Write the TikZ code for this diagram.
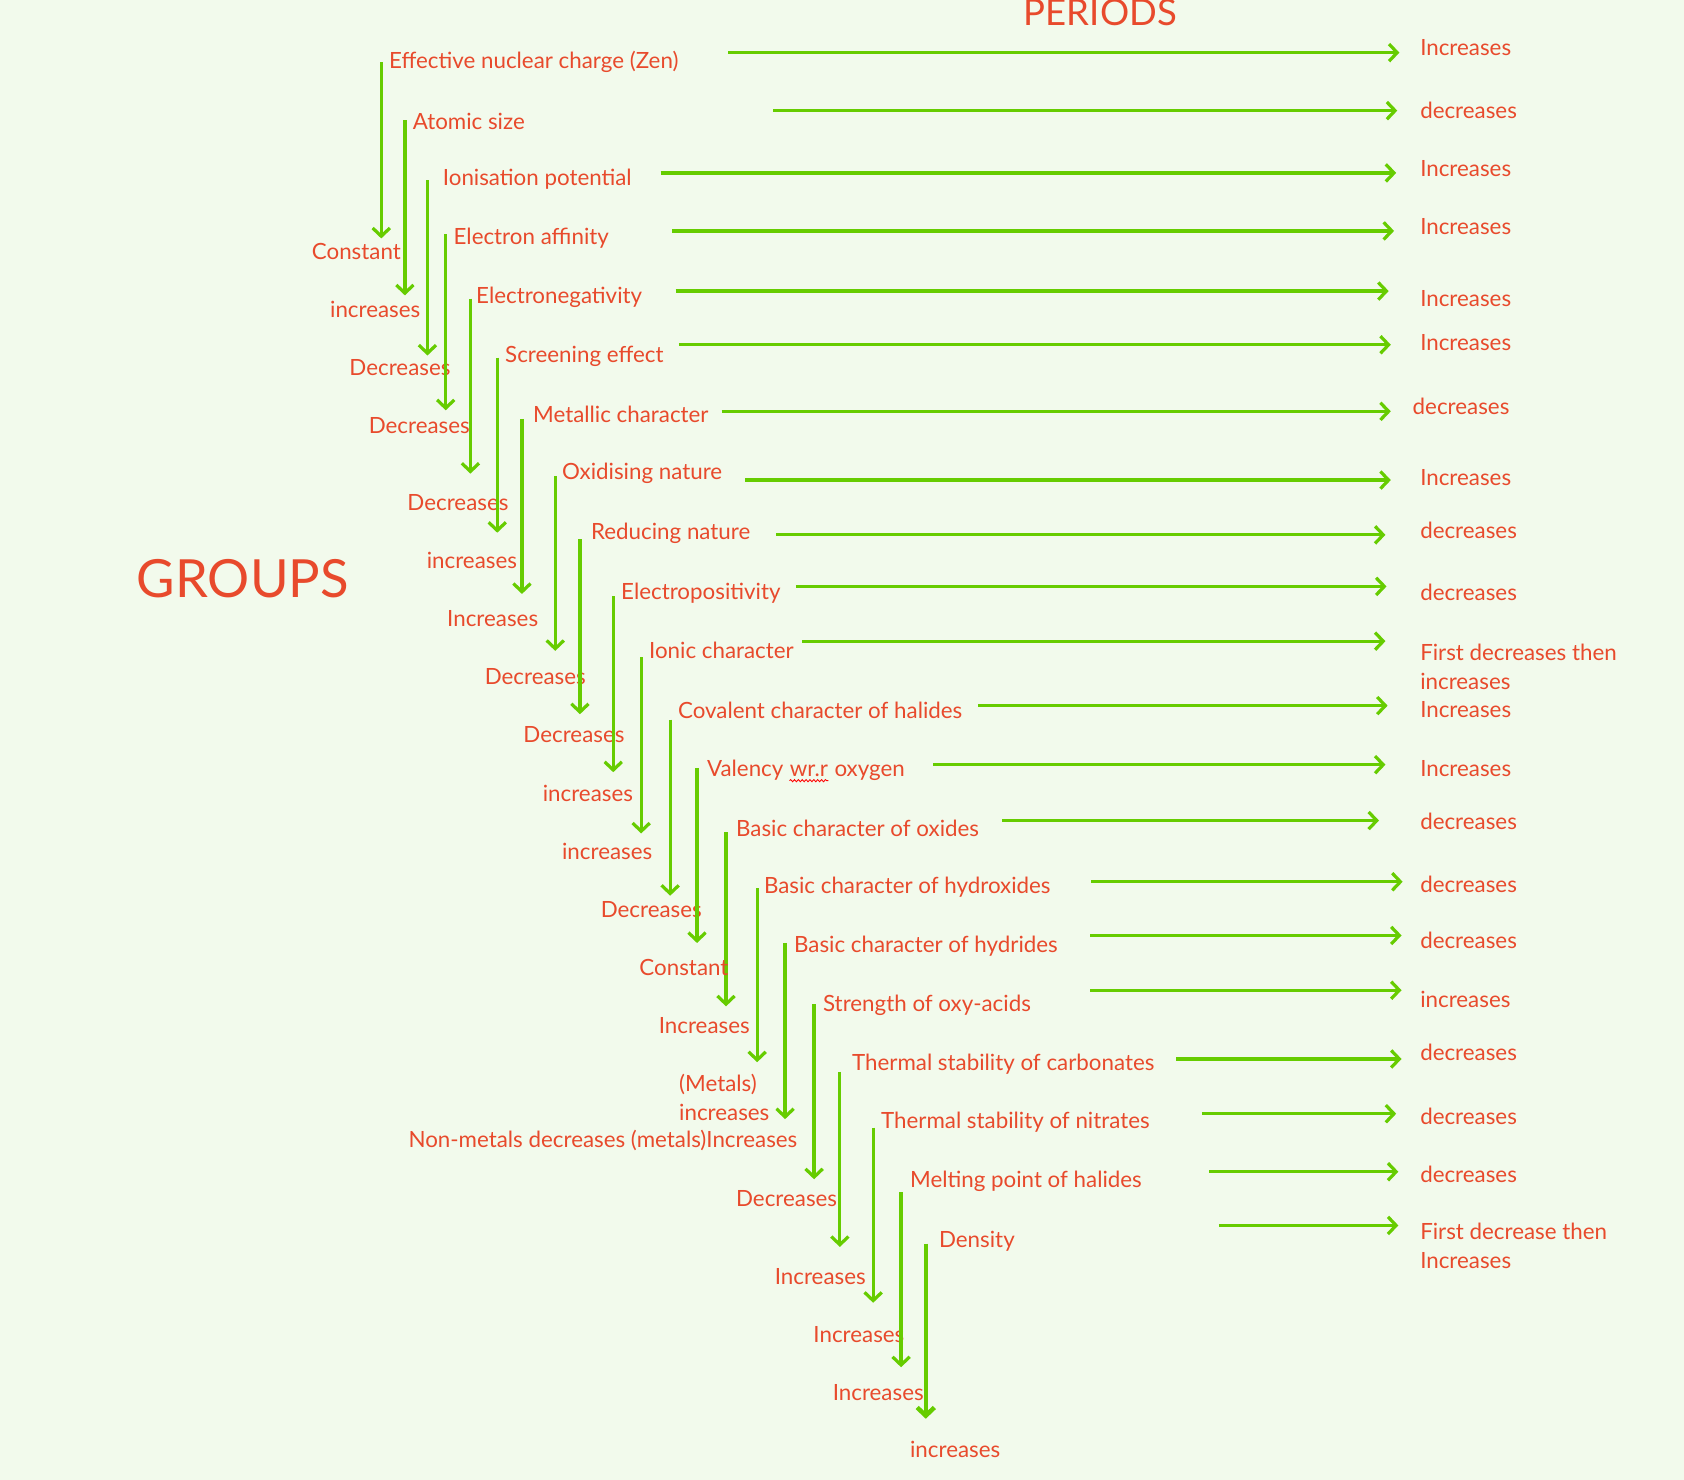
\documentclass[tikz,border=0pt]{standalone}
\usepackage{fontspec}
\setmainfont{Lato}
\usetikzlibrary{arrows.meta,decorations.pathmorphing}
\definecolor{bg}{HTML}{F2FAEC}
\definecolor{tred}{HTML}{E84A2C}
\definecolor{agreen}{HTML}{66CC00}
\begin{document}
\begin{tikzpicture}[x=0.5pt,y=-0.5pt,
  lbl/.style={text=tred, font=\fontsize{10.4}{13.4}\selectfont, inner sep=1pt, anchor=west},
  arr/.style={draw=agreen, line width=1.5pt, -{Straight Barb[length=3.8pt,width=8pt]}}]
\fill[bg] (0,0) rectangle (1568,1378);
\useasboundingbox (0,0) rectangle (1568,1378);
\node[text=tred, font=\fontsize{17}{20}\selectfont, inner sep=0pt, anchor=west] (periods) at (953,12) {PERIODS};
\node[text=tred, font=\fontsize{24.5}{28}\selectfont, inner sep=0pt, anchor=west] (groups) at (127,539) {GROUPS};
\foreach \i/\vx/\vt/\vb/\tx/\ty/\txt/\ha/\hb/\hy/\rx/\ry/\rt/\bx/\by/\bt/\lw in {
 1/355/58/222/360/58/{Effective nuclear charge (Zen)}/678/1303/49/1320/44/{Increases}/288/234/{Constant}/1.5,
 2/377/112/275/382/113/{Atomic size}/720/1301/103/1320/103/{decreases}/305/288/{increases}/1.5,
 3/398/168/331/410/167/{Ionisation potential}/615/1300/161/1320/157/{Increases}/323/342/{Decreases}/1.5,
 4/415/218/382/420/222/{Electron affinity}/626/1298/215/1320/211/{Increases}/341/396/{Decreases}/1.5,
 5/438/278/441/441/277/{Electronegativity}/629/1293/271/1320/278/{Increases}/377/468/{Decreases}/1.5,
 6/463/333/496/468/332/{Screening effect}/632/1295/321/1320/319/{Increases}/395/522/{increases}/1.5,
 7/486/390/553/494/386/{Metallic character}/672/1295/383/1313/378/{decreases}/414/576/{Increases}/1.5,
 8/517/443/606/521/441/{Oxidising nature}/694/1295/447/1320/445/{Increases}/449/630/{Decreases}/1.5,
 9/540/502/665/548/497/{Reducing nature}/723/1290/498/1320/494/{decreases}/485/684/{Decreases}/1.5,
 10/571/555/719/576/552/{Electropositivity}/741/1291/546/1320/552/{decreases}/503/739/{increases}/1.5,
 11/597/612/776/602/606/{Ionic character}/747/1290/597/1320/621/{First decreases then\\increases}/521/793/{increases}/1.5,
 12/624/670/834/629/661/{Covalent character of halides}/911/1292/657/1320/661/{Increases}/557/847/{Decreases}/1.5,
 14/676/775/937/683/771/{Basic character of oxides}/933/1284/764/1320/765/{decreases}/611/955/{Increases}/1.5,
 15/705/827/989/709/826/{Basic character of hydroxides}/1016/1306/821/1320/823/{decreases}/630/1022/{(Metals)\\increases}/1.5,
 16/731/878/1042/737/881/{Basic character of hydrides}/1015/1305/871/1320/876/{decreases}/378/1062/{Non-metals decreases (metals)Increases}/1.5,
 17/758/935/1098/764/936/{Strength of oxy-acids}/1015/1305/922/1320/931/{increases}/683/1116/{Decreases}/1.5,
 18/782/998/1161/791/991/{Thermal stability of carbonates}/1095/1305/986/1320/980/{decreases}/719/1189/{Increases}/1.5,
 19/813/1050/1213/818/1045/{Thermal stability of nitrates}/1119/1300/1037/1320/1039/{decreases}/755/1243/{Increases}/1.5,
 20/839/1110/1273/845/1100/{Melting point of halides}/1126/1302/1091/1320/1093/{decreases}/773/1297/{Increases}/1.5,
 21/862/1158/1321/872/1156/{Density}/1135/1302/1141/1320/1160/{First decrease then\\Increases}/845/1350/{increases}/2.1}
{
  \node[lbl] (t\i) at (\tx,\ty) {\txt};
  \node[lbl, align=left] (r\i) at (\rx,\ry) {\rt};
  \node[lbl, align=left] (b\i) at (\bx,\by) {\bt};
  \coordinate (va\i) at (\vx,\vt);
  \coordinate (vb\i) at (\vx,\vb);
  \coordinate (ha\i) at (\ha,\hy);
  \coordinate (hb\i) at (\hb,\hy);
  \draw[arr, line width=\lw pt] (va\i) -- (vb\i);
  \draw[arr] (ha\i) -- (hb\i);
}
% item 13 with spell-check underline
\node[lbl] (t13) at (656,717) {Valency};
\node[lbl, anchor=base west] (w13) at ([xshift=0.6pt]t13.base east) {wr.r};
\node[lbl, anchor=base west] (o13) at ([xshift=0.6pt]w13.base east) {oxygen};
\draw[red, line width=0.4pt, decorate, decoration={snake, amplitude=0.5pt, segment length=1.8pt}]
  ([xshift=1pt,yshift=-2pt]w13.base west) -- ([xshift=-1pt,yshift=-2pt]w13.base east);
\node[lbl] (r13) at (1320,716) {Increases};
\node[lbl] (b13) at (593,901) {Constant};
\coordinate (va13) at (649,715);
\coordinate (vb13) at (649,878);
\coordinate (ha13) at (869,712);
\coordinate (hb13) at (1290,712);
\draw[arr] (va13) -- (vb13);
\draw[arr] (ha13) -- (hb13);
\end{tikzpicture}
\end{document}
